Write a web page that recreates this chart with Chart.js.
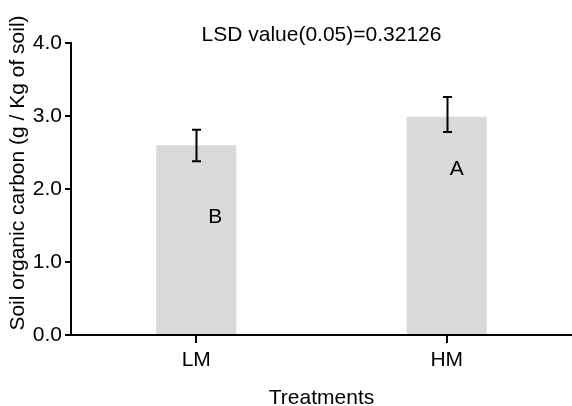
<!DOCTYPE html>
<html>
<head>
<meta charset="utf-8">
<script src="https://cdn.jsdelivr.net/npm/chart.js@4.4.1/dist/chart.umd.min.js"></script>
<style>
  html, body { margin: 0; padding: 0; background: #ffffff; }
  canvas { display: block; }
</style>
</head>
<body>
<canvas id="chart" width="572" height="406"></canvas>
<script>
// Soil organic carbon by manure treatment
const categories = ['LM', 'HM'];
const meanCarbon = [2.60, 2.99];
const errLow = [2.38, 2.78];
const errHigh = [2.81, 3.26];
const groupLetters = ['B', 'A'];
const letterLevels = [1.62, 2.27];
const yTicks = [0, 1, 2, 3, 4];
const lsdText = 'LSD value(0.05)=0.32126';
const xTitle = 'Treatments';
const yTitle = 'Soil organic carbon (g / Kg of soil)';

const FONT = '"Liberation Sans", Arial, Helvetica, sans-serif';
const FONT_SIZE = 21;
Chart.defaults.font.family = FONT;
Chart.defaults.font.size = FONT_SIZE;
Chart.defaults.color = '#000';

// Error bars with flat caps, drawn from the data scale
const errorBarPlugin = {
  id: 'errorBars',
  afterDatasetsDraw(chart) {
    const { ctx, scales: { x, y } } = chart;
    ctx.save();
    ctx.strokeStyle = '#000';
    ctx.lineWidth = 2;
    categories.forEach((c, i) => {
      const px = Math.round(x.getPixelForValue(i)) + 0.5;
      const yl = y.getPixelForValue(errLow[i]);
      const yh = y.getPixelForValue(errHigh[i]);
      ctx.beginPath();
      ctx.moveTo(px, yl); ctx.lineTo(px, yh);
      ctx.moveTo(px - 4.5, yl); ctx.lineTo(px + 4.5, yl);
      ctx.moveTo(px - 4.5, yh); ctx.lineTo(px + 4.5, yh);
      ctx.stroke();
    });
    ctx.restore();
  }
};

// Titles and significance letters
const textPlugin = {
  id: 'chartTexts',
  afterDraw(chart) {
    const { ctx, chartArea, scales: { x, y } } = chart;
    ctx.save();
    ctx.fillStyle = '#000';
    ctx.textAlign = 'center';
    ctx.textBaseline = 'middle';
    ctx.font = FONT_SIZE + 'px ' + FONT;
    ctx.fillText(lsdText, (chartArea.left + chartArea.right) / 2, 35);
    ctx.fillText(xTitle, (chartArea.left + chartArea.right) / 2, 398);
    const letterShift = [19, 10];
    groupLetters.forEach((g, i) => {
      ctx.fillText(g, x.getPixelForValue(i) + letterShift[i], y.getPixelForValue(letterLevels[i]));
    });
    ctx.translate(18, 173);
    ctx.rotate(-Math.PI / 2);
    ctx.fillText(yTitle, 0, 0);
    ctx.restore();
  }
};

new Chart(document.getElementById('chart'), {
  type: 'bar',
  data: {
    labels: categories,
    datasets: [{
      data: meanCarbon,
      backgroundColor: '#d9d9d9',
      borderWidth: 0,
      barPercentage: 0.32,
      categoryPercentage: 1.0
    }]
  },
  options: {
    responsive: false,
    animation: false,
    devicePixelRatio: 1,
    layout: { padding: { top: 43, right: 0, bottom: 0, left: 0 } },
    plugins: { legend: { display: false }, tooltip: { enabled: false }, title: { display: false } },
    scales: {
      x: {
        offset: true,
        grid: { offset: false, drawOnChartArea: false, drawTicks: true, tickLength: 8, color: '#000', lineWidth: 2 },
        border: { display: true, color: '#000', width: 2 },
        ticks: { padding: 5, color: '#000', font: { size: FONT_SIZE } },
        afterFit(s) { s.height = 71; }
      },
      y: {
        min: 0,
        max: 4,
        afterBuildTicks(s) { s.ticks = yTicks.map(v => ({ value: v })); },
        grid: { drawOnChartArea: false, drawTicks: true, tickLength: 6, color: '#000', lineWidth: 2 },
        border: { display: true, color: '#000', width: 2 },
        ticks: { padding: 3, color: '#000', font: { size: FONT_SIZE }, callback: v => Number(v).toFixed(1) },
        afterFit(s) { s.width = 71; }
      }
    }
  },
  plugins: [errorBarPlugin, textPlugin]
});
</script>
</body>
</html>
